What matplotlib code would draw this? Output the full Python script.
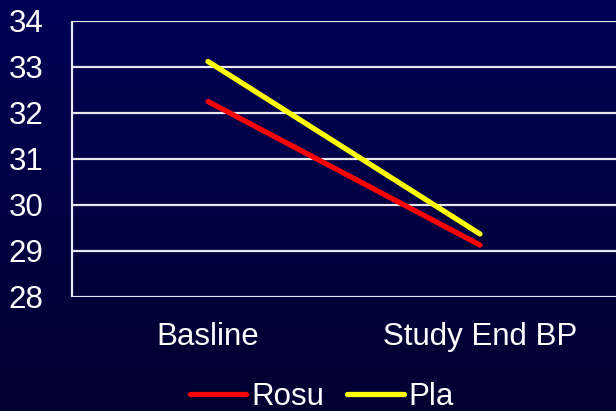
import numpy as np
import matplotlib
matplotlib.use("Agg")
import matplotlib.pyplot as plt

categories = ["Basline", "Study End BP"]
rosu = [32.25, 29.13]
pla = [33.12, 29.37]
yticks = [28, 29, 30, 31, 32, 33, 34]

plt.rcParams['font.family'] = ['Liberation Sans', 'DejaVu Sans']

fig = plt.figure(figsize=(6.16, 4.11), dpi=100)

# gradient background
bg = fig.add_axes([0, 0, 1, 1], zorder=-10)
grad = np.linspace(0, 1, 256).reshape(-1, 1)
top = np.array([0, 0, 0x56]) / 255
bot = np.array([0, 0, 0x30]) / 255
img = top + (bot - top) * grad[..., None]
bg.imshow(img, aspect='auto', extent=[0, 1, 0, 1])
bg.axis('off')

ax = fig.add_axes([72 / 616, 1 - 297 / 411, 1 - 72 / 616, 276 / 411])
ax.patch.set_alpha(0)

x = np.arange(len(categories)) + 0.5
ax.plot(x, rosu, color='#ff0000', lw=3.8, solid_capstyle='round', label='Rosu', zorder=3)
ax.plot(x, pla, color='#ffff00', lw=3.8, solid_capstyle='round', label='Pla', zorder=3)

ax.set_xlim(0, 2)
ax.set_ylim(28, 34)
ax.set_yticks(yticks)
ax.set_xticks(x)
ax.set_xticklabels(categories)
ax.tick_params(axis='both', length=0, colors='white', labelsize=22.5)
ax.tick_params(axis='y', pad=20.5)
ax.tick_params(axis='x', pad=18)

for yv in yticks:
    ax.axhline(yv, color='#e8e8f0', lw=1.6, zorder=1)
for s in ['top', 'right', 'bottom']:
    ax.spines[s].set_visible(False)
ax.spines['left'].set_color('#e8e8f0')
ax.spines['left'].set_linewidth(1.6)
ax.spines['left'].set_capstyle('butt')

leg = fig.legend(loc='center', bbox_to_anchor=(322 / 616, 1 - 397 / 411), ncol=2,
                 frameon=False, fontsize=22.5, handlelength=1.8, handletextpad=0.15,
                 columnspacing=0.75, borderaxespad=0)
for t in leg.get_texts():
    t.set_color('white')

fig.savefig('out.png', dpi=100)
